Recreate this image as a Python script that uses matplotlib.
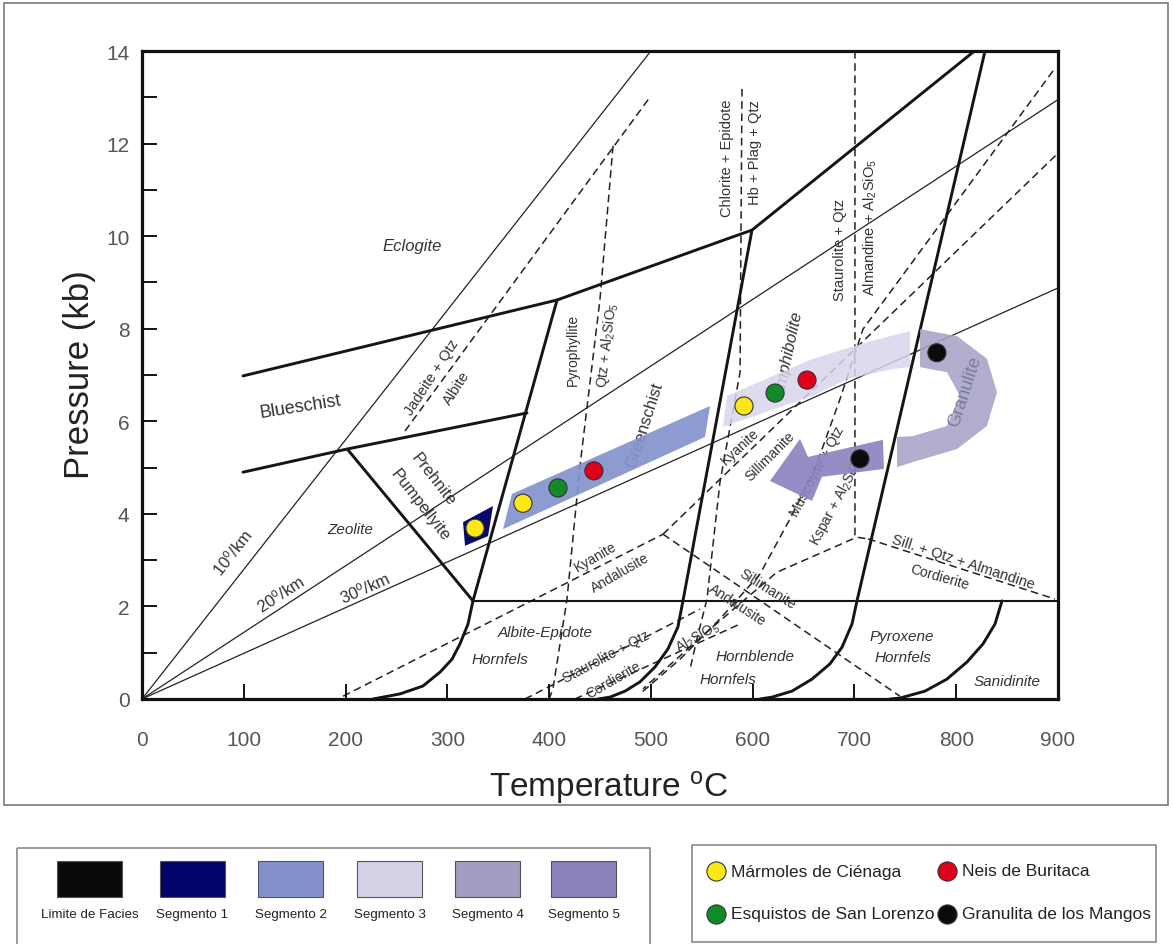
import matplotlib
matplotlib.use('Agg')
import matplotlib.pyplot as plt
from matplotlib.patches import Polygon, Rectangle
from matplotlib import font_manager

W, H = 1173, 945

# ---------------- axis values ----------------
temp_ticks = [0, 100, 200, 300, 400, 500, 600, 700, 800, 900]
pres_ticks = [0, 2, 4, 6, 8, 10, 12, 14]
pres_minor = [1, 3, 5, 7, 9, 11, 13]

# ---------------- geotherms (thin) ----------------
geo10_T = [0, 500]
geo10_P = [0, 14.0]
geo20_T = [0, 900]
geo20_P = [0, 12.95]
geo30_T = [0, 900]
geo30_P = [0, 8.88]

# ---------------- facies limits (thick) ----------------
fac_eclogite_T = [99.2, 407.8, 574.8, 599.3, 818.0]
fac_eclogite_P = [6.98, 8.62, 9.94, 10.13, 14.0]
fac_blueschist_T = [99.2, 201.4, 378.3]
fac_blueschist_P = [4.90, 5.40, 6.18]
fac_prehnite_T = [202.4, 325.2]
fac_prehnite_P = [5.38, 2.12]
fac_greenschist_T = [407.8, 325.2, 320.3, 312.4, 304.6, 292.8, 276.0, 253.5, 227.0]
fac_greenschist_P = [8.62, 2.12, 1.62, 1.19, 0.86, 0.58, 0.28, 0.11, 0.0]
fac_hornfels_T = [325.2, 900.0]
fac_hornfels_P = [2.12, 2.12]
fac_amphibolite_T = [599.3, 531.5, 526.6, 516.7, 504.0, 489.3, 474.6, 459.8, 448.0]
fac_amphibolite_P = [10.13, 2.12, 1.56, 1.08, 0.69, 0.37, 0.17, 0.04, 0.0]
fac_granulite_T = [828.3, 702.5, 697.6, 687.8, 676.0, 658.3, 638.6, 619.0, 607.2]
fac_granulite_P = [14.0, 2.12, 1.62, 1.12, 0.76, 0.43, 0.17, 0.04, 0.0]
fac_sanidinite_T = [845.0, 838.1, 826.3, 810.6, 790.9, 769.3, 744.7, 735.0]
fac_sanidinite_P = [2.12, 1.62, 1.19, 0.80, 0.43, 0.17, 0.02, 0.0]

# ---------------- reactions (dashed) ----------------
rx_jadeite_T = [258.4, 500.0]
rx_jadeite_P = [5.79, 13.03]
rx_pyroph_T = [462.8, 450.0, 430.3, 417.6, 403.8, 400.0]
rx_pyroph_P = [11.95, 8.64, 5.03, 2.16, 0.22, 0.0]
rx_chlorite_T = [589.5, 587.6, 567.9, 555.1, 545.3, 538.0]
rx_chlorite_P = [13.18, 7.06, 4.69, 2.16, 1.30, 0.60]
rx_staurolite_T = [700.5, 700.5, 713.3]
rx_staurolite_P = [14.0, 3.50, 3.46]
rx_cordierite_T = [713.3, 897.0]
rx_cordierite_P = [3.46, 2.16]
rx_ky_and_T = [197.5, 511.9]
rx_ky_and_P = [0.06, 3.56]
rx_and_sil_T = [511.9, 744.7]
rx_and_sil_P = [3.56, 0.06]
rx_ky_sil_T = [511.9, 899.0]
rx_ky_sil_P = [3.56, 11.77]
rx_musc_T = [895.1, 708.4, 685.8, 661.2, 636.7, 607.2, 567.9, 528.6, 489.3]
rx_musc_P = [13.57, 7.99, 6.48, 4.97, 3.89, 2.70, 1.73, 0.86, 0.11]
rx_st_cord_T = [698.6, 623.9, 555.1, 492.3]
rx_st_cord_P = [3.46, 2.74, 1.45, 0.22]
rx_st_qtz_T = [376.3, 548.2]
rx_st_qtz_P = [0.0, 1.94]
rx_al2sio5_T = [425.4, 587.6]
rx_al2sio5_P = [0.0, 1.62]

# ---------------- P-T path segments ----------------
seg1_T = [315.4, 344.9, 340.0, 317.4]
seg1_P = [3.82, 4.17, 3.52, 3.31]
seg2_T = [363.5, 558.1, 553.1, 354.7]
seg2_P = [4.43, 6.33, 5.66, 3.67]
seg3_T = [574.8, 659.3, 712.3, 754.6, 754.6, 737.9, 692.7, 659.3, 570.8]
seg3_P = [6.55, 7.35, 7.71, 7.95, 7.17, 7.13, 6.91, 6.55, 5.88]
seg4_T = [764.4, 800.8, 830.2, 840.1, 830.2, 800.8, 757.5, 741.8,
          741.8, 757.5, 790.9, 803.7, 790.9, 764.4]
seg4_P = [7.99, 7.84, 7.35, 6.63, 5.90, 5.40, 5.12, 5.01,
          5.66, 5.68, 5.90, 6.55, 7.06, 7.17]
seg5_T = [728.0, 654.4, 646.5, 617.0, 658.3, 668.1, 729.0]
seg5_P = [5.60, 5.23, 5.62, 4.71, 4.28, 4.80, 4.97]

seg_colors = ['#07086c', '#8593cd', '#d9d5ec', '#a6a2c7', '#8c83c0']
seg_alpha = [1.0, 0.92, 0.85, 0.88, 0.92]

# ---------------- samples ----------------
pt_T = [327.2, 374.3, 408.7, 444.0, 591.5, 622.0, 653.4, 781.0, 705.4]
pt_P = [3.69, 4.23, 4.56, 4.93, 6.33, 6.61, 6.89, 7.48, 5.19]
pt_unit = [0, 0, 1, 2, 0, 1, 2, 3, 3]
unit_names = ['Mármoles de Ciénaga', 'Esquistos de San Lorenzo',
              'Neis de Buritaca', 'Granulita de los Mangos']
unit_colors = ['#fbe816', '#128a2a', '#df0019', '#0b0b0b']

# ---------------- labels ----------------
AL = r'Al$_2$SiO$_5$'
lab_text = ['Eclogite', 'Blueschist', 'Jadeite + Qtz', 'Albite', 'Prehnite',
            'Pumpellyite', 'Zeolite', r'10$^{\rm o}$/km', r'20$^{\rm o}$/km',
            r'30$^{\rm o}$/km', 'Pyrophyllite', 'Qtz + ' + AL, 'Greenschist',
            'Chlorite + Epidote', 'Hb + Plag + Qtz', 'Amphibolite',
            'Staurolite + Qtz', 'Almandine + ' + AL, 'Kyanite', 'Sillimanite',
            'Muscovite + Qtz', 'Kspar + ' + AL, 'Kyanite', 'Andalusite',
            'Sillimanite', 'Andalusite', 'Albite-Epidote', 'Hornfels',
            'Staurolite + Qtz', 'Cordierite', AL, 'Hornblende', 'Hornfels',
            'Pyroxene', 'Hornfels', 'Sanidinite', 'Sill. + Qtz + Almandine',
            'Cordierite']
lab_T = [265.3, 155.2, 285.0, 309.5, 286.0, 273.1, 204.4, 89.4, 136.6,
         219.1, 423.5, 456.9, 494.2, 574.8, 602.3, 636.7, 685.8, 715.3,
         587.6, 617.0, 663.2, 683.8, 445.1, 469.7, 614.1, 584.6, 396.0,
         351.7, 455.9, 462.8, 546.3, 602.3, 575.8, 746.7, 747.7, 849.9,
         806.6, 784.0]
lab_P = [9.79, 6.33, 6.96, 6.74, 4.75, 4.21, 3.67, 3.18, 2.29, 2.42,
         7.56, 7.67, 5.94, 11.71, 11.82, 7.45, 9.72, 10.20, 5.47, 5.25,
         4.93, 4.32, 3.09, 2.74, 2.38, 2.05, 1.45, 0.86, 0.93, 0.43, 1.36,
         0.93, 0.43, 1.36, 0.91, 0.39, 2.98, 2.64]
lab_rot = [0, 9, 57, 57, -52, -52, 0, 52, 33, 24, 90, 83, 72, 90, 90, 78,
           90, 90, 43, 45, 62, 62, 30, 30, -32, -33, 0, 0, 28, 30, 30, 0, 0,
           0, 0, 0, -18, -16]
lab_size = [12, 13, 10.5, 10.5, 12, 12, 11, 12, 12, 12, 10, 10, 12, 10.5, 10.5, 12,
            10.5, 10.5, 10, 10, 10, 10, 10, 10, 10, 10, 11, 11, 10, 10, 10, 11,
            11, 11, 11, 11, 10.5, 10]
lab_italic = [1, 0, 0, 0, 0, 0, 1, 0, 0, 0, 0, 0, 0, 0, 0, 1, 0, 0, 0, 0, 0,
              0, 0, 0, 0, 0, 1, 1, 0, 0, 0, 1, 1, 1, 1, 1, 0, 0]
granulite_label = ('Granulite', 808.6, 6.65, 72)

legend_seg_labels = ['Limite de Facies', 'Segmento 1', 'Segmento 2',
                     'Segmento 3', 'Segmento 4', 'Segmento 5']
legend_seg_colors = ['#0a0a0a', '#03036b', '#8591cc', '#d4d0e6', '#a29dc2',
                     '#8b80ba']

# ---------------- fonts ----------------
names = {f.name for f in font_manager.fontManager.ttflist}
SANS = 'Liberation Sans' if 'Liberation Sans' in names else 'DejaVu Sans'
NARROW = 'Liberation Sans Narrow' if 'Liberation Sans Narrow' in names else SANS
plt.rcParams['font.family'] = [SANS, 'DejaVu Sans']
plt.rcParams['mathtext.fontset'] = 'custom'
plt.rcParams['mathtext.rm'] = SANS
plt.rcParams['mathtext.it'] = SANS + ':italic'
plt.rcParams['mathtext.bf'] = SANS + ':bold'

fig = plt.figure(figsize=(W / 100, H / 100), dpi=100)
ax = fig.add_axes([142 / W, 1 - 700 / H, 916 / W, 648 / H])
ax.set_xlim(0, 900)
ax.set_ylim(0, 14)

LC = '#151515'
for T, P in [(geo10_T, geo10_P), (geo20_T, geo20_P), (geo30_T, geo30_P)]:
    ax.plot(T, P, color='#222222', lw=0.9, zorder=1)

dashed = [(rx_jadeite_T, rx_jadeite_P), (rx_pyroph_T, rx_pyroph_P),
          (rx_chlorite_T, rx_chlorite_P), (rx_staurolite_T, rx_staurolite_P),
          (rx_cordierite_T, rx_cordierite_P), (rx_ky_and_T, rx_ky_and_P),
          (rx_and_sil_T, rx_and_sil_P), (rx_ky_sil_T, rx_ky_sil_P),
          (rx_musc_T, rx_musc_P), (rx_st_cord_T, rx_st_cord_P),
          (rx_st_qtz_T, rx_st_qtz_P), (rx_al2sio5_T, rx_al2sio5_P)]
for T, P in dashed:
    ax.plot(T, P, color='#222222', lw=1.1, ls=(0, (5, 3)), zorder=1)

thick = [(fac_eclogite_T, fac_eclogite_P), (fac_blueschist_T, fac_blueschist_P),
         (fac_prehnite_T, fac_prehnite_P), (fac_greenschist_T, fac_greenschist_P),
         (fac_amphibolite_T, fac_amphibolite_P), (fac_granulite_T, fac_granulite_P),
         (fac_sanidinite_T, fac_sanidinite_P)]
for T, P in thick:
    ax.plot(T, P, color=LC, lw=2.1, zorder=2, solid_joinstyle='round',
            solid_capstyle='round')
ax.plot(fac_hornfels_T, fac_hornfels_P, color=LC, lw=1.5, zorder=2)

for t, x, y, r, s, it in zip(lab_text, lab_T, lab_P, lab_rot, lab_size, lab_italic):
    ax.text(x, y, t, rotation=r, fontsize=s, style='italic' if it else 'normal',
            color='#333333', ha='center', va='center', zorder=2)

segs = [(seg1_T, seg1_P), (seg2_T, seg2_P), (seg3_T, seg3_P),
        (seg4_T, seg4_P), (seg5_T, seg5_P)]
for (T, P), c, a in zip(segs, seg_colors, seg_alpha):
    ax.add_patch(Polygon(list(zip(T, P)), closed=True, facecolor=c,
                         edgecolor='none', alpha=a, zorder=3))

g = granulite_label
ax.text(g[1], g[2], g[0], rotation=g[3], fontsize=13, color='#7d7b9c',
        ha='center', va='center', zorder=4)

ax.scatter(pt_T, pt_P, s=170, c=[unit_colors[u] for u in pt_unit],
           edgecolors='#333333', linewidths=0.8, zorder=5)

for sp in ax.spines.values():
    sp.set_linewidth(2.3)
    sp.set_color('#111111')
ax.set_xticks(temp_ticks)
ax.set_yticks(pres_ticks)
ax.set_yticks(pres_minor, minor=True)
ax.tick_params(axis='both', which='both', direction='in', length=11, width=1.3,
               labelcolor='#555555', labelsize=15)
ax.tick_params(axis='x', pad=22)
ax.tick_params(axis='y', pad=9)
for lab in ax.get_xticklabels() + ax.get_yticklabels():
    lab.set_fontfamily(NARROW)

ax.set_ylabel('Pressure (kb)', fontsize=25, color='#222222', va='center')
ax.yaxis.set_label_coords(-0.0677, 0.5015)
ax.set_xlabel(r'Temperature $^{\rm o}$C', fontsize=24, color='#222222',
              va='center')
ax.xaxis.set_label_coords(0.509, -0.1345)

# ---------------- overlay: frame and legends ----------------
ov = fig.add_axes([0, 0, 1, 1])
ov.set_xlim(0, W)
ov.set_ylim(H, 0)
ov.axis('off')
ov.patch.set_alpha(0)
ov.add_patch(Rectangle((4, 4), 1164, 802, fill=False, ec='#7a7a7a', lw=1.2))
ov.add_patch(Rectangle((17, 849), 633, 110, fill=False, ec='#8a8a8a', lw=1.2))
ov.add_patch(Rectangle((692, 846), 464, 97, fill=False, ec='#8a8a8a', lw=1.2))

sw_x = [57, 160, 258, 357, 455, 551]
for x, c, lab in zip(sw_x, legend_seg_colors, legend_seg_labels):
    ov.add_patch(Rectangle((x, 862), 65, 36, facecolor=c, edgecolor='#555555',
                           lw=0.8))
    ov.text(x + 32.5, 915, lab, fontsize=9.6, ha='center', va='center',
            color='#222222')

leg_x = [716, 716, 947, 947]
leg_y = [872, 915, 872, 915]
for i, name in enumerate(unit_names):
    ov.scatter([leg_x[i]], [leg_y[i]], s=190, c=unit_colors[i],
               edgecolors='#333333', linewidths=0.8)
    ov.text(leg_x[i] + 15, leg_y[i], name, fontsize=12.5, ha='left',
            va='center', color='#222222')

fig.savefig('out.png', dpi=100, facecolor='white')
